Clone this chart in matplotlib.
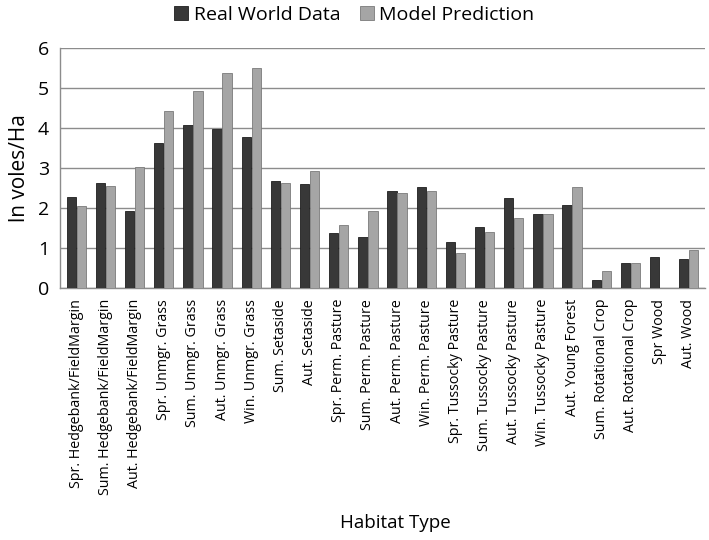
import matplotlib.pyplot as plt
import numpy as np

plt.rcParams['font.family'] = ['Open Sans', 'DejaVu Sans']

# habitat categories and values (ln voles/Ha)
habitats = [
    "Spr. Hedgebank/FieldMargin", "Sum. Hedgebank/FieldMargin", "Aut. Hedgebank/FieldMargin",
    "Spr. Unmgr. Grass", "Sum. Unmgr. Grass", "Aut. Unmgr. Grass", "Win. Unmgr. Grass",
    "Sum. Setaside", "Aut. Setaside",
    "Spr. Perm. Pasture", "Sum. Perm. Pasture", "Aut. Perm. Pasture", "Win. Perm. Pasture",
    "Spr. Tussocky Pasture", "Sum. Tussocky Pasture", "Aut. Tussocky Pasture", "Win. Tussocky Pasture",
    "Aut. Young Forest", "Sum. Rotational Crop", "Aut. Rotational Crop", "Spr Wood", "Aut. Wood",
]
real_world = [2.28, 2.63, 1.93, 3.62, 4.08, 3.97, 3.78, 2.68, 2.60, 1.38, 1.28,
              2.43, 2.53, 1.15, 1.52, 2.25, 1.85, 2.07, 0.20, 0.63, 0.78, 0.72]
model_pred = [2.05, 2.55, 3.03, 4.42, 4.92, 5.38, 5.50, 2.62, 2.92, 1.58, 1.93,
              2.38, 2.43, 0.88, 1.40, 1.75, 1.85, 2.52, 0.42, 0.63, 0.0, 0.95]

fig = plt.figure(figsize=(7.09, 5.4), dpi=100)
ax = fig.add_axes([0.085, 0.467, 0.909, 0.444])

x = np.arange(len(habitats))
w = 0.32
ax.bar(x - w / 2 - 0.01, real_world, w, color="#383838", edgecolor="#1e1e1e",
       linewidth=0.6, label="Real World Data", zorder=3)
ax.bar(x + w / 2 + 0.01, model_pred, w, color="#a5a5a5", edgecolor="#7a7a7a",
       linewidth=0.6, label="Model Prediction", zorder=3)

ax.set_xlim(-0.55, len(habitats) - 0.45)
ax.set_ylim(0, 6)
ax.set_yticks(range(0, 7))
ax.yaxis.grid(True, color="#8c8c8c", linewidth=1.0, zorder=0)
ax.set_axisbelow(True)
for s in ["top", "right"]:
    ax.spines[s].set_visible(False)
for s in ["left", "bottom"]:
    ax.spines[s].set_color("#8c8c8c")
    ax.spines[s].set_linewidth(1.0)
ax.tick_params(axis="y", length=0, labelsize=14, pad=8)
ax.tick_params(axis="x", length=0, pad=8)
ax.set_xticks(x)
ax.set_xticklabels(habitats, rotation=90, fontsize=10.3)

ax.set_ylabel("ln voles/Ha", fontsize=15, labelpad=6)
fig.text(0.557, 0.022, "Habitat Type", ha="center", fontsize=13.5)

fig.legend(loc="upper center", bbox_to_anchor=(0.5, 1.022), ncol=2, frameon=False,
           fontsize=14, handlelength=0.7, handleheight=0.7, columnspacing=1.0,
           handletextpad=0.3)

fig.savefig("out.png", dpi=100)
